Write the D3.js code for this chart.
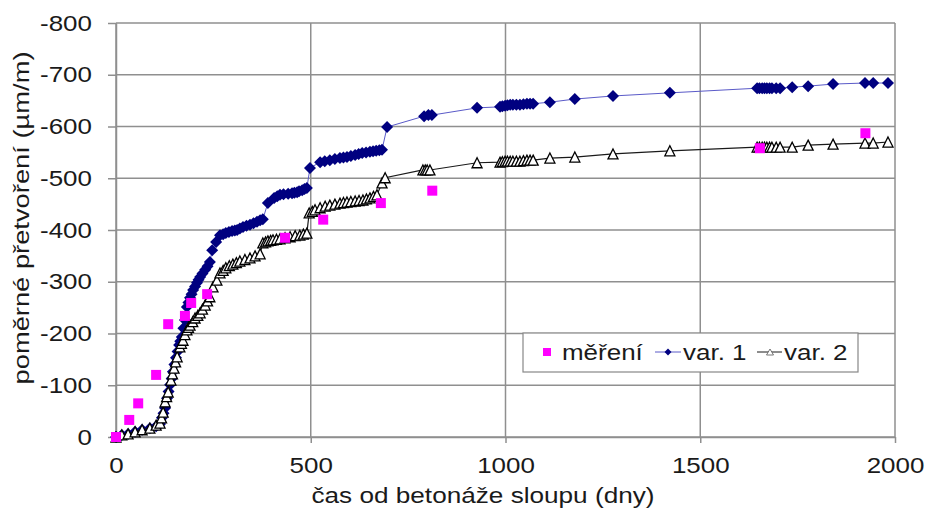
<!DOCTYPE html>
<html>
<head>
<meta charset="utf-8">
<script src="https://cdn.jsdelivr.net/npm/d3@7"></script>
<style>
  html, body { margin: 0; padding: 0; background: #fff; }
  svg text { font-family: "Liberation Sans", Arial, sans-serif; fill: #1a1a1a; }
</style>
</head>
<body>
<svg id="chart" width="927" height="513"></svg>
<script>
// ---------------- data ----------------
const measuredDays   = [0, 34, 57, 103, 134, 177, 193, 234, 434, 532, 680, 812, 1653, 1924];
const measuredValues = [0, -33, -65, -120, -218, -234, -259, -276, -385, -420, -452, -476, -558, -587];

const var1Days = [0, 15, 31, 49, 67, 87, 103, 113, 118, 122,
  126, 131, 135, 139, 143, 146, 150, 154, 158, 162,
  165, 169, 173, 177, 182, 186, 190, 194, 198, 203,
  208, 212, 216, 222, 229, 235, 241, 247, 257, 267,
  275, 282, 290, 298, 305, 311, 318, 326, 335, 344,
  353, 362, 370, 377, 390, 406, 414, 421, 430, 442,
  452, 458, 465, 470, 478, 484, 490, 498, 524, 536,
  549, 562, 575, 584, 593, 603, 614, 623, 632, 642,
  652, 660, 668, 676, 683, 696, 791, 802, 811, 927,
  986, 992, 999, 1005, 1012, 1019, 1028, 1037, 1046, 1055,
  1063, 1071, 1114, 1178, 1276, 1422, 1646, 1652, 1659, 1665,
  1671, 1678, 1684, 1695, 1705, 1736, 1777, 1841, 1923, 1944,
  1982];
const var1Values = [0, -4, -6, -10, -14, -17, -21, -25, -37, -46,
  -56, -75, -88, -101, -113, -126, -140, -153, -165, -178,
  -185, -193, -210, -226, -251, -260, -269, -276, -284, -291,
  -298, -304, -309, -316, -323, -330, -338, -361, -377, -390,
  -392, -394, -396, -398, -399, -400, -403, -406, -408, -410,
  -413, -416, -419, -421, -452, -462, -465, -468, -469, -470,
  -471, -472, -473, -475, -477, -479, -481, -520, -531, -533,
  -535, -537, -539, -540, -541, -543, -545, -547, -549, -550,
  -551, -552, -553, -554, -555, -599, -620, -622, -622, -636,
  -638, -639, -640, -641, -642, -642, -642, -642, -643, -644,
  -644, -644, -647, -653, -659, -665, -674, -674, -674, -674,
  -674, -674, -674, -674, -674, -676, -678, -682, -684, -684,
  -684];

const var2Days = [0, 15, 31, 49, 67, 87, 103, 113, 117, 121,
  126, 130, 134, 141, 145, 149, 153, 157, 164, 168,
  172, 177, 182, 186, 190, 197, 203, 210, 216, 222,
  229, 235, 241, 249, 259, 267, 275, 282, 291, 300,
  309, 318, 331, 344, 357, 370, 377, 384, 390, 397,
  403, 412, 421, 434, 447, 460, 472, 481, 490, 496,
  504, 511, 524, 537, 549, 562, 575, 584, 593, 603,
  614, 624, 634, 643, 652, 661, 670, 683, 691, 788,
  794, 799, 806, 927, 986, 992, 999, 1005, 1012, 1019,
  1028, 1037, 1046, 1055, 1063, 1071, 1114, 1178, 1276, 1422,
  1646, 1652, 1659, 1665, 1671, 1678, 1684, 1695, 1705, 1736,
  1777, 1841, 1923, 1944, 1982];
const var2Values = [0, -4, -6, -10, -14, -17, -23, -27, -37, -48,
  -68, -78, -87, -110, -122, -133, -145, -155, -174, -181,
  -187, -198, -207, -212, -216, -223, -230, -235, -240, -247,
  -255, -263, -271, -290, -303, -317, -322, -327, -331, -334,
  -337, -340, -343, -346, -350, -354, -375, -377, -379, -380,
  -381, -382, -383, -385, -387, -389, -390, -392, -394, -433,
  -436, -439, -443, -446, -448, -450, -452, -453, -454, -455,
  -456, -457, -458, -460, -462, -465, -468, -491, -501, -516,
  -516, -516, -516, -530, -531, -532, -533, -533, -533, -533,
  -533, -533, -534, -535, -535, -535, -539, -541, -547, -553,
  -560, -560, -560, -560, -560, -560, -560, -560, -560, -560,
  -564, -566, -568, -568, -570];

const xTicks = [0, 500, 1000, 1500, 2000];
const yTicks = [0, -100, -200, -300, -400, -500, -600, -700, -800];
const seriesNames = ["měření", "var. 1", "var. 2"];
const xTitle = "čas od betonáže sloupu (dny)";
const yTitle = "poměrné přetvoření (µm/m)";

// ---------------- layout ----------------
const svg = d3.select("#chart");
const plotLeft = 116, plotRight = 895, plotTop = 23, plotBottom = 437;
const FONT = 22, STRETCH = 1.18;

const x = d3.scaleLinear().domain([0, 2000]).range([plotLeft, plotRight]);
const y = d3.scaleLinear().domain([0, -800]).range([plotBottom, plotTop]);

const gridColor = "#8f8f8f";

// grid
const grid = svg.append("g");
grid.selectAll("line.h").data(yTicks).join("line")
  .attr("x1", plotLeft).attr("x2", plotRight)
  .attr("y1", d => y(d)).attr("y2", d => y(d))
  .attr("stroke", gridColor).attr("stroke-width", 1.5);
grid.selectAll("line.v").data(xTicks).join("line")
  .attr("y1", plotTop).attr("y2", plotBottom)
  .attr("x1", d => x(d)).attr("x2", d => x(d))
  .attr("stroke", gridColor).attr("stroke-width", 1.5);

// axes
const yAxis = svg.append("g").attr("transform", `translate(${plotLeft},0)`)
  .call(d3.axisLeft(y).tickValues(yTicks).tickFormat(d => String(d)).tickSize(8).tickSizeOuter(0).tickPadding(16));
const xAxis = svg.append("g").attr("transform", `translate(0,${plotBottom})`)
  .call(d3.axisBottom(x).tickValues(xTicks).tickFormat(d => String(d)).tickSize(6).tickSizeOuter(0).tickPadding(14));
[yAxis, xAxis].forEach(a => {
  a.select(".domain").attr("stroke", gridColor).attr("stroke-width", 1.5);
  a.selectAll(".tick line").attr("stroke", gridColor).attr("stroke-width", 1.5);
  a.selectAll("text").attr("font-size", FONT).attr("fill", "#1a1a1a")
    .attr("font-family", "'Liberation Sans', Arial, sans-serif");
});

// marker shapes
const diamondPath = (r) => `M0,${-r}L${r},0L0,${r}L${-r},0Z`;
const trianglePath = (w, h) => `M0,${-h/2}L${w/2},${h/2}L${-w/2},${h/2}Z`;

// series lines
const line = d3.line().x(d => x(d[0])).y(d => y(d[1]));
const v1 = var1Days.map((d, i) => [d, var1Values[i]]);
const v2 = var2Days.map((d, i) => [d, var2Values[i]]);
const ms = measuredDays.map((d, i) => [d, measuredValues[i]]);

svg.append("path").datum(v1).attr("d", line)
  .attr("fill", "none").attr("stroke", "#5a5ac8").attr("stroke-width", 1);
svg.append("g").selectAll("path").data(v1).join("path")
  .attr("d", diamondPath(6))
  .attr("transform", d => `translate(${x(d[0])},${y(d[1])})`)
  .attr("fill", "#000080");

svg.append("path").datum(v2).attr("d", line)
  .attr("fill", "none").attr("stroke", "#1a1a1a").attr("stroke-width", 1.2);
svg.append("g").selectAll("path").data(v2).join("path")
  .attr("d", trianglePath(10, 10))
  .attr("transform", d => `translate(${x(d[0])},${y(d[1])})`)
  .attr("fill", "#fff").attr("stroke", "#000").attr("stroke-width", 1.3);

svg.append("g").selectAll("rect").data(ms).join("rect")
  .attr("x", d => x(d[0]) - 5).attr("y", d => y(d[1]) - 5)
  .attr("width", 10).attr("height", 10)
  .attr("fill", "#ff00ff");

// legend
const lg = svg.append("g");
lg.append("rect").attr("x", 523).attr("y", 333).attr("width", 335).attr("height", 39)
  .attr("fill", "#fff").attr("stroke", "#888").attr("stroke-width", 1.2);
const ly = 352;
lg.append("rect").attr("x", 543).attr("y", ly - 4).attr("width", 8).attr("height", 8).attr("fill", "#ff00ff");
lg.append("text").attr("x", 562).attr("y", ly + 8).attr("font-size", FONT).text(seriesNames[0]);
lg.append("line").attr("x1", 655).attr("x2", 681).attr("y1", ly).attr("y2", ly).attr("stroke", "#5a5ac8").attr("stroke-width", 1);
lg.append("path").attr("d", diamondPath(3.5)).attr("transform", `translate(668,${ly})`).attr("fill", "#000080");
lg.append("text").attr("x", 683).attr("y", ly + 8).attr("font-size", FONT).text(seriesNames[1]);
lg.append("line").attr("x1", 757).attr("x2", 782).attr("y1", ly).attr("y2", ly).attr("stroke", "#1a1a1a").attr("stroke-width", 1);
lg.append("path").attr("d", trianglePath(7, 6)).attr("transform", `translate(770,${ly})`)
  .attr("fill", "#fff").attr("stroke", "#555").attr("stroke-width", 0.8);
lg.append("text").attr("x", 784).attr("y", ly + 8).attr("font-size", FONT).text(seriesNames[2]);

// horizontal stretch of all text to match the reference's wide lettering
svg.selectAll("text").each(function() {
  const w = this.getComputedTextLength();
  d3.select(this).attr("textLength", w * STRETCH).attr("lengthAdjust", "spacingAndGlyphs");
});

// axis titles (explicit lengths)
svg.append("text")
  .attr("x", 483).attr("y", 503)
  .attr("text-anchor", "middle").attr("font-size", FONT)
  .attr("textLength", 343).attr("lengthAdjust", "spacingAndGlyphs")
  .text(xTitle);
svg.append("text")
  .attr("transform", `translate(29,218) rotate(-90)`)
  .attr("text-anchor", "middle").attr("font-size", FONT)
  .attr("textLength", 333).attr("lengthAdjust", "spacingAndGlyphs")
  .text(yTitle);
</script>
</body>
</html>
